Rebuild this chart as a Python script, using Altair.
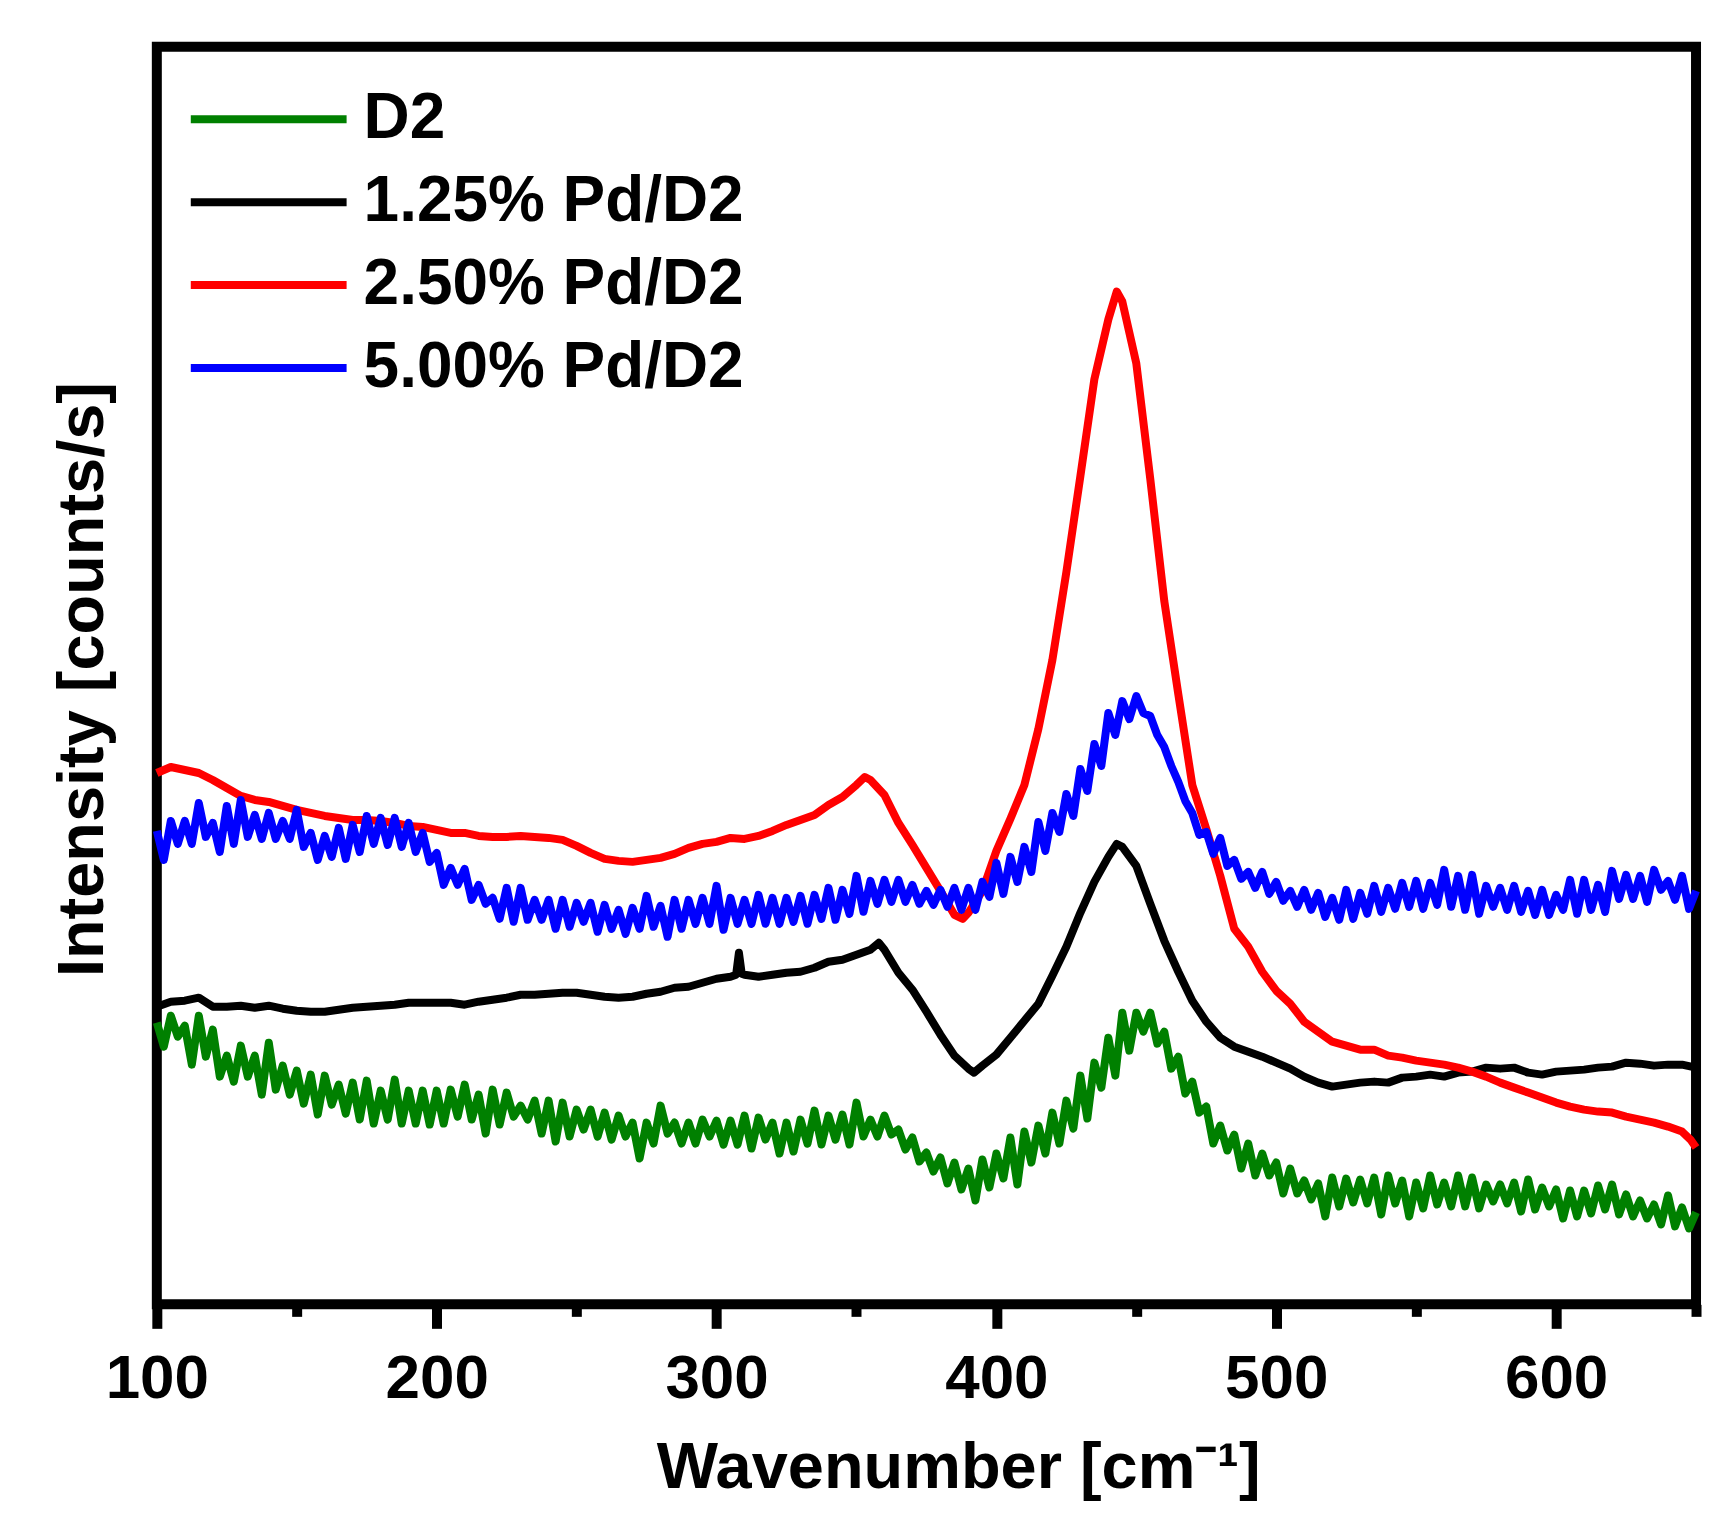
import altair as alt
import numpy as np
import pandas as pd

# Raman spectra (arbitrary intensity units)
series_names = ['D2', '1.25% Pd/D2', '2.50% Pd/D2', '5.00% Pd/D2']
series_colors = ['#008000', '#000000', '#ff0000', '#0000ff']

# noisy spectra: sampled every 2.5 cm-1 from 100 to 650
noisy_wn = np.arange(100, 650.1, 2.5)

d2_y = [
    282, 258, 289, 268, 279, 240, 289, 248, 275, 228,
    249, 223, 259, 228, 249, 210, 262, 215, 239, 210,
    234, 201, 230, 190, 229, 200, 220, 191, 222, 185,
    224, 181, 214, 185, 225, 181, 214, 181, 214, 180,
    214, 181, 215, 188, 220, 185, 210, 171, 215, 180,
    212, 188, 199, 185, 204, 171, 204, 163, 202, 168,
    195, 175, 195, 168, 192, 165, 189, 168, 182, 146,
    182, 161, 199, 171, 182, 161, 182, 161, 185, 168,
    184, 160, 184, 160, 189, 156, 187, 165, 182, 151,
    182, 153, 185, 161, 194, 160, 189, 165, 190, 160,
    202, 168, 185, 168, 189, 170, 175, 155, 167, 143,
    152, 133, 147, 121, 142, 115, 136, 104, 145, 117,
    151, 126, 167, 120, 173, 142, 179, 151, 192, 161,
    204, 176, 229, 186, 242, 217, 267, 229, 292, 254,
    292, 273, 292, 261, 273, 236, 248, 211, 223, 192,
    198, 161, 179, 154, 170, 136, 161, 129, 151, 129,
    142, 111, 136, 111, 124, 105, 121, 88, 127, 98,
    126, 102, 125, 101, 127, 90, 129, 101, 124, 88,
    122, 96, 129, 100, 122, 98, 129, 98, 127, 96,
    120, 103, 120, 101, 122, 93, 125, 95, 117, 98,
    115, 86, 114, 88, 114, 91, 119, 95, 120, 90,
    110, 88, 104, 86, 100, 80, 109, 78, 97, 76,
    92,
]

pd500_y = [
    474, 445, 484, 461, 484, 461, 502, 468, 482, 453,
    499, 461, 505, 468, 490, 466, 492, 466, 484, 466,
    495, 458, 472, 445, 469, 448, 477, 446, 480, 453,
    489, 461, 487, 460, 487, 458, 482, 453, 472, 443,
    452, 420, 437, 420, 436, 405, 420, 401, 407, 386,
    417, 383, 417, 385, 405, 385, 405, 376, 405, 378,
    402, 383, 402, 373, 400, 376, 395, 371, 397, 376,
    409, 378, 399, 368, 405, 376, 405, 381, 407, 381,
    419, 375, 407, 381, 405, 381, 410, 381, 407, 381,
    407, 383, 409, 381, 410, 386, 417, 385, 415, 391,
    429, 393, 424, 401, 425, 403, 425, 403, 420, 401,
    414, 400, 415, 398, 417, 395, 417, 395, 423, 408,
    442, 411, 448, 423, 458, 433, 483, 454, 492, 473,
    511, 489, 536, 514, 561, 539, 592, 570, 604, 586,
    609, 592, 589, 570, 558, 539, 523, 504, 492, 470,
    473, 451, 467, 439, 445, 426, 433, 417, 433, 411,
    423, 404, 414, 398, 415, 395, 412, 388, 407, 385,
    415, 386, 412, 391, 419, 393, 417, 396, 422, 398,
    424, 396, 422, 400, 435, 398, 429, 395, 430, 391,
    419, 398, 417, 395, 419, 393, 414, 390, 415, 390,
    410, 395, 425, 391, 425, 395, 420, 393, 434, 406,
    430, 406, 429, 403, 435, 415, 424, 405, 429, 396,
    414,
]

# smoother spectra
pd125_wn = [
    100, 105, 110, 115, 120, 125, 130, 135, 140, 145, 150, 155, 160, 165, 170,
    175, 180, 185, 190, 195, 200, 205, 210, 215, 220, 225, 230, 235, 240, 245,
    250, 255, 260, 265, 270, 275, 280, 285, 290, 295, 300, 305, 307, 308, 309,
    310, 315, 320, 325, 330, 335, 340, 345, 350, 355, 358, 360, 365, 370, 375,
    380, 385, 390, 392, 395, 400, 405, 410, 415, 420, 425, 430, 435, 440, 443,
    445, 450, 455, 460, 465, 470, 475, 480, 485, 490, 495, 500, 505, 510, 515,
    520, 525, 530, 535, 540, 545, 550, 555, 560, 565, 570, 575, 580, 585, 590,
    595, 600, 605, 610, 615, 620, 625, 630, 635, 640, 645, 650,
]
pd125_y = [
    298, 303, 304, 307, 298, 298, 299, 297, 299, 296, 294, 293, 293, 295, 297,
    298, 299, 300, 302, 302, 302, 302, 300, 303, 305, 307, 310, 310, 311, 312,
    312, 310, 308, 307, 308, 311, 313, 317, 318, 322, 326, 328, 330, 352, 331,
    330, 328, 330, 332, 333, 337, 343, 345, 350, 355, 362, 355, 332, 315, 293,
    270, 249, 236, 232, 239, 250, 267, 284, 301, 329, 358, 392, 423, 448, 461,
    458, 439, 401, 364, 333, 304, 283, 267, 258, 253, 248, 242, 236, 228, 222,
    218, 220, 222, 223, 222, 227, 228, 230, 228, 232, 233, 237, 236, 237, 232,
    230, 233, 234, 235, 237, 238, 242, 241, 239, 240, 240, 237,
]

pd250_wn = [
    100, 105, 110, 115, 120, 125, 130, 135, 140, 145, 150, 155, 160, 165, 170,
    175, 180, 185, 190, 195, 200, 205, 210, 215, 220, 225, 230, 235, 240, 245,
    250, 255, 260, 265, 270, 275, 280, 285, 290, 295, 300, 305, 310, 315, 320,
    325, 330, 335, 340, 345, 350, 353, 355, 360, 365, 370, 375, 380, 385, 388,
    390, 395, 400, 405, 410, 415, 420, 425, 430, 435, 440, 443, 445, 450, 455,
    460, 465, 470, 475, 480, 485, 490, 495, 500, 505, 510, 515, 520, 525, 530,
    535, 540, 545, 550, 555, 560, 565, 570, 575, 580, 585, 590, 595, 600, 605,
    610, 615, 620, 625, 630, 635, 640, 645, 648, 650,
]
pd250_y = [
    532, 538, 535, 532, 525, 517, 509, 505, 503, 499, 495, 492, 489, 487, 485,
    485, 484, 482, 479, 478, 475, 472, 472, 469, 468, 468, 469, 468, 467, 465,
    459, 452, 446, 444, 443, 445, 447, 451, 457, 461, 463, 467, 466, 469, 474,
    480, 485, 490, 500, 508, 520, 528, 525, 510, 482, 460, 437, 414, 390, 386,
    392, 414, 454, 486, 520, 576, 645, 733, 829, 926, 986, 1014, 1004, 942, 826,
    704, 611, 520, 476, 429, 376, 358, 333, 314, 301, 283, 273, 263, 259, 255,
    255, 249, 247, 244, 242, 240, 237, 233, 228, 222, 217, 212, 207, 202, 198,
    195, 193, 192, 188, 185, 182, 178, 173, 165, 157,
]

frames = [
    pd.DataFrame({'wn': noisy_wn, 'intensity': d2_y, 'sample': 'D2', 'order': 0}),
    pd.DataFrame({'wn': pd125_wn, 'intensity': pd125_y, 'sample': '1.25% Pd/D2', 'order': 1}),
    pd.DataFrame({'wn': pd250_wn, 'intensity': pd250_y, 'sample': '2.50% Pd/D2', 'order': 2}),
    pd.DataFrame({'wn': noisy_wn, 'intensity': pd500_y, 'sample': '5.00% Pd/D2', 'order': 3}),
]
df = pd.concat(frames, ignore_index=True)

font = 'Liberation Sans'
x_ticks = list(range(100, 651, 50))

chart = alt.Chart(df).mark_line(strokeWidth=8, strokeJoin='round').encode(
    x=alt.X('wn:Q',
            scale=alt.Scale(domain=[100, 650], nice=False, zero=False),
            axis=alt.Axis(values=x_ticks,
                          labelExpr="datum.value % 100 === 0 ? datum.label : ''",
                          tickSize={'condition': {'test': 'datum.value % 100 === 0', 'value': 24}, 'value': 12},
                          tickWidth=10, tickColor='black', domain=False, grid=False,
                          labelFont=font, labelFontSize=62, labelFontWeight='bold', labelColor='black',
                          labelBaseline='alphabetic', labelPadding=69, labelFlush=False, labelOverlap=False,
                          title='Wavenumber [cm⁻¹]', titleFont=font, titleFontSize=65,
                          titleFontWeight='bold', titleColor='black', titleBaseline='alphabetic',
                          titleAlign='left', titleX=500, titleY=183)),
    y=alt.Y('intensity:Q',
            scale=alt.Scale(domain=[0, 1259], nice=False, zero=False),
            axis=alt.Axis(labels=False, ticks=False, domain=False, grid=False,
                          title='Intensity [counts/s]', titleFont=font, titleFontSize=65,
                          titleFontWeight='bold', titleColor='black', titleAngle=270,
                          titleBaseline='alphabetic', titleAlign='center', titleX=-54, titleY=633)),
    color=alt.Color('sample:N',
                    scale=alt.Scale(domain=series_names, range=series_colors),
                    legend=alt.Legend(title=None, orient='none', legendX=30, legendY=31,
                                      symbolType='stroke', symbolSize=24336, symbolStrokeWidth=8,
                                      labelFont=font, labelFontSize=64, labelFontWeight='bold',
                                      labelColor='black', labelOffset=13, clipHeight=83,
                                      rowPadding=0, padding=0, labelLimit=0)),
    order='order:Q'
).properties(
    width=1541,
    height=1259,
    autosize=alt.AutoSizeParams(type='none'),
    padding={'left': 149, 'top': 38, 'right': 20, 'bottom': 200}
).configure_view(
    stroke='black',
    strokeWidth=10
)

chart.save('out.html', embed_options={'renderer': 'svg', 'actions': False})
